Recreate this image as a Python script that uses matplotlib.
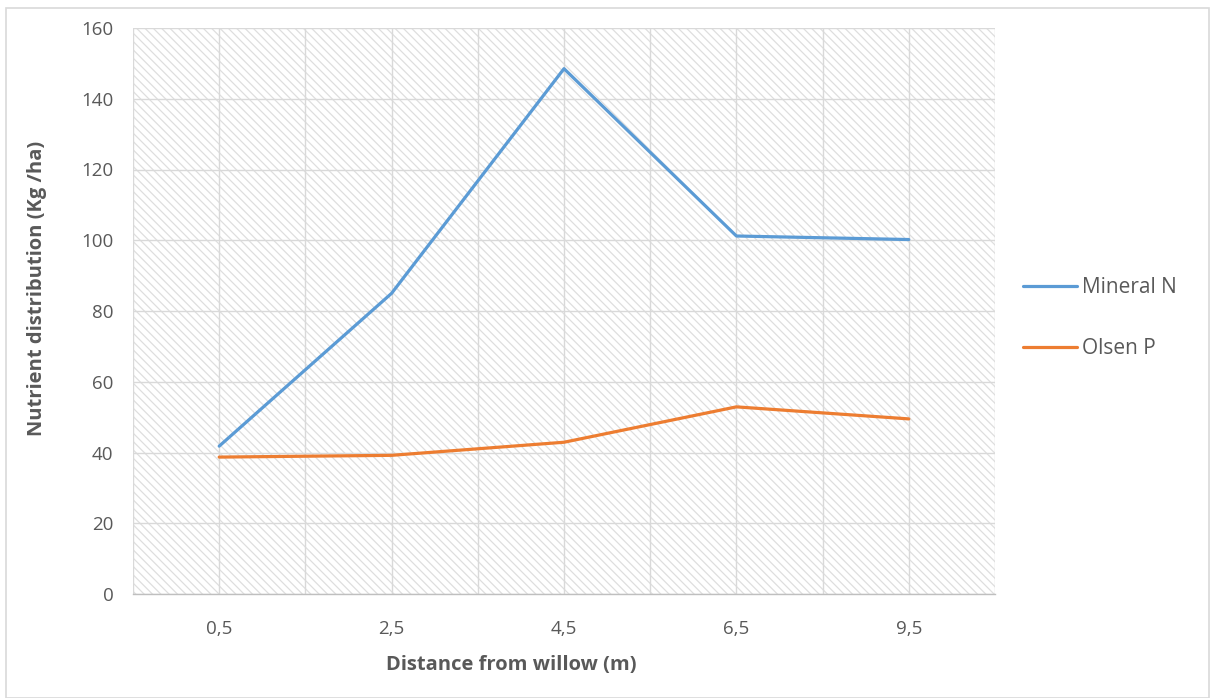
import matplotlib
matplotlib.use("Agg")
import matplotlib.pyplot as plt
from matplotlib.patches import Rectangle

categories = ["0,5", "2,5", "4,5", "6,5", "9,5"]
mineral_n = [41.8, 85.0, 148.5, 101.2, 100.2]
olsen_p = [38.7, 39.2, 42.9, 52.9, 49.5]
y_ticks = [0, 20, 40, 60, 80, 100, 120, 140, 160]

plt.rcParams['font.family'] = ['Open Sans', 'DejaVu Sans']
plt.rcParams['hatch.linewidth'] = 0.9
W, H = 1212, 698
fig = plt.figure(figsize=(W / 100, H / 100), dpi=100)
fig.patch.set_facecolor('white')

# outer chart border
fig.add_artist(Rectangle((6 / W, 0), (1209 - 6) / W, (H - 8) / H, transform=fig.transFigure,
                         fill=False, edgecolor='#D9D9D9', linewidth=1.2))

ax = fig.add_axes([133 / W, 1 - 594 / H, (995 - 133) / W, (594 - 28) / H])
ax.set_facecolor('white')

# hatched background
hatch_rect = Rectangle((0, 0), 1, 1, transform=ax.transAxes, facecolor='white',
                       edgecolor='#DEDEDE', linewidth=0, hatch='\\\\\\\\', zorder=0)
ax.add_patch(hatch_rect)

x = list(range(len(categories)))
ax.plot(x, mineral_n, color='#5B9BD5', linewidth=2.3, solid_capstyle='round',
        label='Mineral N', zorder=3)
ax.plot(x, olsen_p, color='#ED7D31', linewidth=2.3, solid_capstyle='round',
        label='Olsen P', zorder=3)

ax.set_xlim(-0.5, len(categories) - 0.5)
ax.set_ylim(0, 160)
ax.set_yticks(y_ticks)
ax.set_yticklabels([str(v) for v in y_ticks])
ax.set_xticks(x)
ax.set_xticklabels(categories)
ax.set_xticks([i - 0.5 for i in range(len(categories) + 1)], minor=True)

ax.grid(True, which='major', axis='both', color='#D9D9D9', linewidth=1.0, zorder=1)
ax.grid(True, which='minor', axis='x', color='#D9D9D9', linewidth=1.0, zorder=1)
ax.set_axisbelow(True)

ax.tick_params(axis='both', which='both', length=0, labelsize=13.5, labelcolor='#595959')
ax.tick_params(axis='y', pad=14)
ax.tick_params(axis='x', pad=19)

for s in ['top', 'right', 'left']:
    ax.spines[s].set_visible(False)
ax.spines['bottom'].set_color('#BFBFBF')
ax.spines['bottom'].set_linewidth(1.0)

fig.text(511 / W, 1 - 665 / H, 'Distance from willow (m)', ha='center', va='center',
         fontsize=14.5, fontweight='bold', color='#595959')
fig.text(37 / W, 1 - 288 / H, 'Nutrient distribution (Kg /ha)', ha='center', va='center',
         rotation=90, fontsize=14.5, fontweight='bold', color='#595959')

leg = fig.legend(loc='center left', bbox_to_anchor=(1004 / W, 1 - 318 / H), frameon=False,
                 fontsize=15, labelspacing=1.9, handlelength=2.6, handletextpad=0.25,
                 labelcolor='#595959')

fig.savefig('out.png', dpi=100, facecolor='white')
